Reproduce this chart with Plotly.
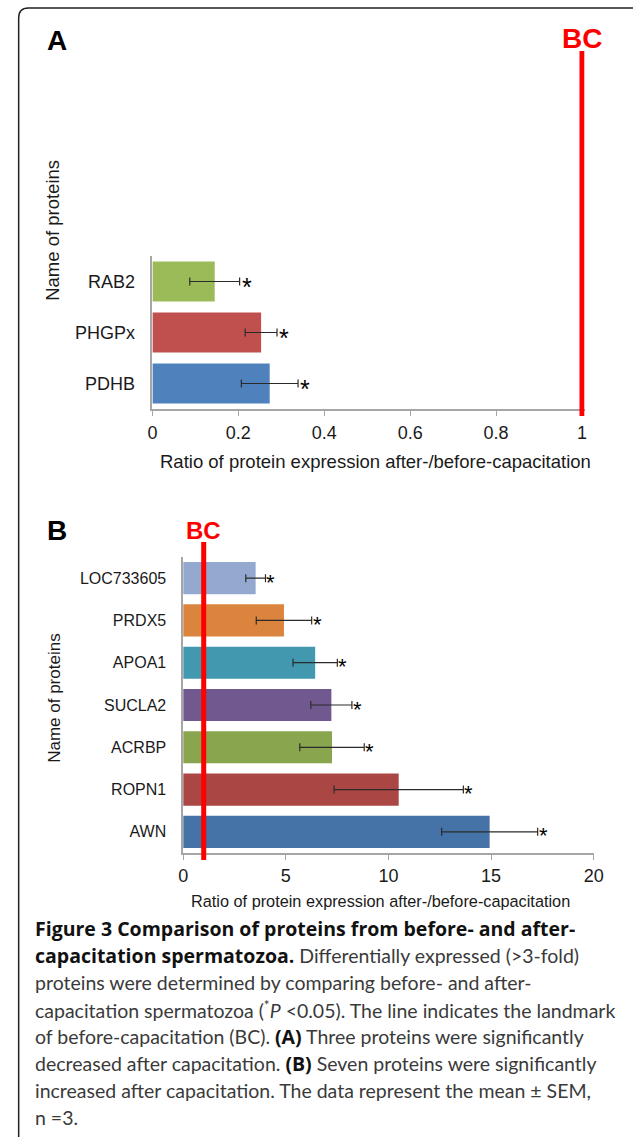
import plotly.graph_objects as go

W, H = 633, 1137

# ---------------- data ----------------
a_proteins = ["PDHB", "PHGPx", "RAB2"]
a_ratio = [0.273, 0.253, 0.145]
a_sem = [0.066, 0.037, 0.058]
a_colors = ["#4F81BD", "#C0504D", "#9BBB59"]
a_ticks = [0, 0.2, 0.4, 0.6, 0.8, 1]
a_ticktext = ["0", "0.2", "0.4", "0.6", "0.8", "1"]

b_proteins = ["AWN", "ROPN1", "ACRBP", "SUCLA2", "APOA1", "PRDX5", "LOC733605"]
b_ratio = [14.93, 10.5, 7.25, 7.22, 6.43, 4.91, 3.53]
b_sem = [2.34, 3.15, 1.57, 1.0, 1.08, 1.35, 0.48]
b_colors = ["#4572A7", "#AA4643", "#89A54E", "#71588F", "#4198AF", "#DB843D", "#93A9CF"]
b_ticks = [0, 5, 10, 15, 20]

bc_value = 1
x_title = "Ratio of protein expression after-/before-capacitation"
y_title = "Name of proteins"

BOLD = '<span style="font-family:Open Sans;font-weight:bold;color:#111">{}</span>'
caption_lines = [
    BOLD.format("Figure 3 Comparison of proteins from before- and after-"),
    BOLD.format("capacitation spermatozoa.") + " Differentially expressed (>3-fold)",
    "proteins were determined by comparing before- and after-",
    "capacitation spermatozoa (<sup>*</sup><i>P</i> &lt;0.05). The line indicates the landmark",
    "of before-capacitation (BC). " + BOLD.format("(A)") + " Three proteins were significantly",
    "decreased after capacitation. " + BOLD.format("(B)") + " Seven proteins were significantly",
    "increased after capacitation. The data represent the mean ± SEM,",
    "n =3.",
]


def fx(px):
    return px / W


def fy(py):
    return 1 - py / H


ARIAL = "Liberation Sans, Arial, sans-serif"
AXC = "#A6A6A6"

fig = go.Figure()

fig.add_trace(go.Bar(
    y=a_proteins, x=a_ratio, orientation="h",
    marker=dict(color=a_colors, line=dict(width=0)),
    error_x=dict(type="data", array=a_sem, color="#2b2b2b", thickness=1.2, width=4),
    width=0.78, xaxis="x", yaxis="y", showlegend=False,
))
fig.add_trace(go.Bar(
    y=b_proteins, x=b_ratio, orientation="h",
    marker=dict(color=b_colors, line=dict(width=0)),
    error_x=dict(type="data", array=b_sem, color="#2b2b2b", thickness=1.2, width=4),
    width=0.76, xaxis="x2", yaxis="y2", showlegend=False,
))

common_x = dict(showline=True, linecolor=AXC, linewidth=1.5, ticks="outside", ticklen=5,
                tickcolor=AXC, showgrid=False, zeroline=False,
                tickfont=dict(family=ARIAL, size=18, color="#1a1a1a"))
common_y = dict(showline=True, linecolor=AXC, linewidth=1.5, ticks="", showgrid=False,
                zeroline=False, type="category")

a_xmax = 1.006
fig.update_layout(
    width=W, height=H, autosize=False, margin=dict(l=0, r=0, t=0, b=0, pad=0),
    paper_bgcolor="white", plot_bgcolor="white",
    xaxis=dict(domain=[fx(151), fx(151 + 440 * a_xmax)], range=[0, a_xmax], tickvals=a_ticks,
               ticktext=a_ticktext, anchor="y", ticklabelstandoff=2, **common_x),
    yaxis=dict(domain=[fy(409), fy(256)], range=[-0.5, 2.5], anchor="x",
               tickfont=dict(family=ARIAL, size=18, color="#1a1a1a"), ticklabelstandoff=12, **common_y),
    xaxis2=dict(domain=[fx(182.5), fx(603)], range=[0, 20], tickvals=b_ticks,
                anchor="y2", ticklabelstandoff=1, **common_x),
    yaxis2=dict(domain=[fy(853), fy(557)], range=[-0.5, 6.5], anchor="x2",
                tickfont=dict(family=ARIAL, size=16, color="#1a1a1a"), ticklabelstandoff=12, **common_y),
    bargap=0.22,
)

shapes = []
# frame
r = 10
shapes.append(dict(
    type="path", xref="paper", yref="paper",
    path=f"M {fx(14)},{fy(1140)} L {fx(14)},{fy(8 + r)} Q {fx(14)},{fy(8)} {fx(14 + r)},{fy(8)} L {fx(650)},{fy(8)}",
    line=dict(color="#222", width=1.5),
))
# BC lines
shapes.append(dict(type="line", xref="x", yref="paper", x0=bc_value, x1=bc_value,
                   y0=fy(416), y1=fy(51), line=dict(color="#FF0000", width=5)))
shapes.append(dict(type="line", xref="x2", yref="paper", x0=bc_value, x1=bc_value,
                   y0=fy(860), y1=fy(542), line=dict(color="#FF0000", width=5)))
fig.update_layout(shapes=shapes)

ann = []
# panel letters
ann.append(dict(text="<b>A</b>", x=fx(53), y=fy(41), xref="paper", yref="paper", showarrow=False,
                font=dict(family=ARIAL, size=28, color="black"), xanchor="center", yanchor="middle"))
ann.append(dict(text="<b>B</b>", x=fx(53), y=fy(530), xref="paper", yref="paper", showarrow=False,
                font=dict(family=ARIAL, size=28, color="black"), xanchor="center", yanchor="middle"))
# BC labels
ann.append(dict(text="<b>BC</b>", x=bc_value, y=fy(38), xref="x", yref="paper", showarrow=False,
                font=dict(family=ARIAL, size=28, color="#FF0000"), xanchor="center", yanchor="middle"))
ann.append(dict(text="<b>BC</b>", x=bc_value, y=fy(530), xref="x2", yref="paper", showarrow=False,
                font=dict(family=ARIAL, size=24, color="#FF0000"), xanchor="center", yanchor="middle"))
# axis titles
ann.append(dict(text=x_title, x=fx(379), y=fy(462), xref="paper", yref="paper", showarrow=False,
                font=dict(family=ARIAL, size=18.5, color="#1a1a1a"), xanchor="center", yanchor="middle"))
ann.append(dict(text=x_title, x=fx(385), y=fy(901), xref="paper", yref="paper", showarrow=False,
                font=dict(family=ARIAL, size=16.3, color="#1a1a1a"), xanchor="center", yanchor="middle"))
ann.append(dict(text=y_title, x=fx(49), y=fy(230), xref="paper", yref="paper", showarrow=False,
                textangle=-90, font=dict(family=ARIAL, size=18.5, color="#1a1a1a"),
                xanchor="center", yanchor="middle"))
ann.append(dict(text=y_title, x=fx(50), y=fy(698), xref="paper", yref="paper", showarrow=False,
                textangle=-90, font=dict(family=ARIAL, size=17, color="#1a1a1a"),
                xanchor="center", yanchor="middle"))
# significance asterisks
for p, v, e in zip(a_proteins, a_ratio, a_sem):
    ann.append(dict(text="*", x=v + e, y=p, xref="x", yref="y", showarrow=False, xanchor="left",
                    yanchor="middle", xshift=0, yshift=-5,
                    font=dict(family=ARIAL, size=25, color="black")))
for p, v, e in zip(b_proteins, b_ratio, b_sem):
    ann.append(dict(text="*", x=v + e, y=p, xref="x2", yref="y2", showarrow=False, xanchor="left",
                    yanchor="middle", xshift=-1, yshift=-4,
                    font=dict(family=ARIAL, size=22, color="black")))
# caption
cap_y0, cap_dy = 928, 27
for i, line in enumerate(caption_lines):
    ann.append(dict(text=line, x=fx(29), y=fy(cap_y0 + i * cap_dy), xref="paper", yref="paper",
                    showarrow=False, xanchor="left", yanchor="middle", align="left",
                    font=dict(family="Lato, sans-serif", size=19.5, color="#3a3a3a")))
fig.update_layout(annotations=ann)

fig.write_html(
    "out.html", config={"displayModeBar": False, "responsive": False},
    post_script=("document.body.style.margin='0';document.body.style.padding='0';"
                 "document.documentElement.style.overflow='hidden';"
                 "var g=document.getElementById('{plot_id}');g.style.position='absolute';"
                 "g.style.left='0px';g.style.top='0px';"),
)
